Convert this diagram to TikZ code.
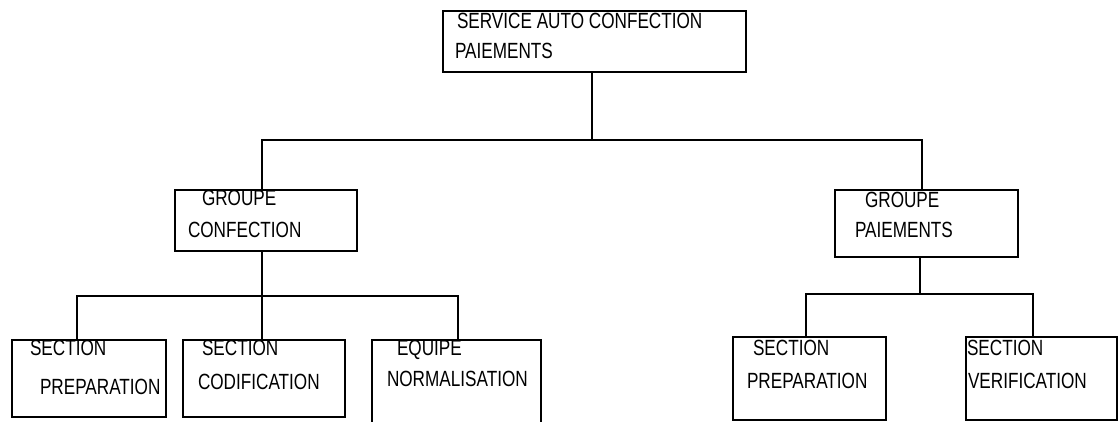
\documentclass[tikz,border=0pt]{standalone}
\usepackage{fontspec}
\setmainfont{Liberation Sans}[FakeStretch=0.78]
\begin{document}
\begin{tikzpicture}[x=1pt,y=-1pt,
  box/.style={draw,line width=1.3pt,inner sep=0pt,outer sep=0pt,rectangle},
  lbl/.style={anchor=base west,inner sep=0pt,outer sep=0pt,font=\fontsize{22}{26}\selectfont},
  conn/.style={line width=1.3pt}]
\clip (0,0) rectangle (1119,421);
\fill[white] (0,0) rectangle (1119,421);
% boxes
\node[box,minimum width=303pt,minimum height=61pt] (top) at (594.5,41.5) {};
\node[box,minimum width=182pt,minimum height=61pt] (gL) at (266,220.5) {};
\node[box,minimum width=183pt,minimum height=67pt] (gR) at (926.5,223.5) {};
\node[box,minimum width=154pt,minimum height=77pt] (b1) at (89,378.5) {};
\node[box,minimum width=162pt,minimum height=77pt] (b2) at (264,378.5) {};
\node[box,minimum width=169pt,minimum height=86pt] (b3) at (456.5,383) {};
\node[box,minimum width=153pt,minimum height=83pt] (b4) at (809.5,378.5) {};
\node[box,minimum width=151pt,minimum height=83pt] (b5) at (1041.5,378.5) {};
% labels
\node[lbl] (t1) at (457,28) {SERVICE AUTO CONFECTION};
\node[lbl] (t2) at (455,58) {PAIEMENTS};
\node[lbl] (gL1) at (202,205) {GROUPE};
\node[lbl] (gL2) at (188,237) {CONFECTION};
\node[lbl] (gR1) at (865,207) {GROUPE};
\node[lbl] (gR2) at (855,237) {PAIEMENTS};
\node[lbl] (b1a) at (30,355) {SECTION};
\node[lbl] (b1b) at (40,394) {PREPARATION};
\node[lbl] (b2a) at (202,355) {SECTION};
\node[lbl] (b2b) at (198,389) {CODIFICATION};
\node[lbl] (b3a) at (397,355) {EQUIPE};
\node[lbl] (b3b) at (387,386) {NORMALISATION};
\node[lbl] (b4a) at (753,355) {SECTION};
\node[lbl] (b4b) at (747,388) {PREPARATION};
\node[lbl] (b5a) at (967,355) {SECTION};
\node[lbl] (b5b) at (968,388) {VERIFICATION};
% junctions
\coordinate (tj) at (592,140);
\coordinate (lj) at (262,140);
\coordinate (rj) at (922,140);
\coordinate (gLj) at (262,296);
\coordinate (b1j) at (77,296);
\coordinate (b3j) at (458,296);
\coordinate (gRj) at (920,294);
\coordinate (b4j) at (806,294);
\coordinate (b5j) at (1033,294);
% connectors
\draw[conn] (top.south -| tj) -- (tj);
\draw[conn] (gL.north -| lj) -- (lj) -- (rj) -- (gR.north -| rj);
\draw[conn] (gL.south -| gLj) -- (gLj) -- (b2.north -| gLj);
\draw[conn] (b1.north -| b1j) -- (b1j) -- (b3j) -- (b3.north -| b3j);
\draw[conn] (gR.south -| gRj) -- (gRj);
\draw[conn] (b4.north -| b4j) -- (b4j) -- (b5j) -- (b5.north -| b5j);
\end{tikzpicture}
\end{document}
